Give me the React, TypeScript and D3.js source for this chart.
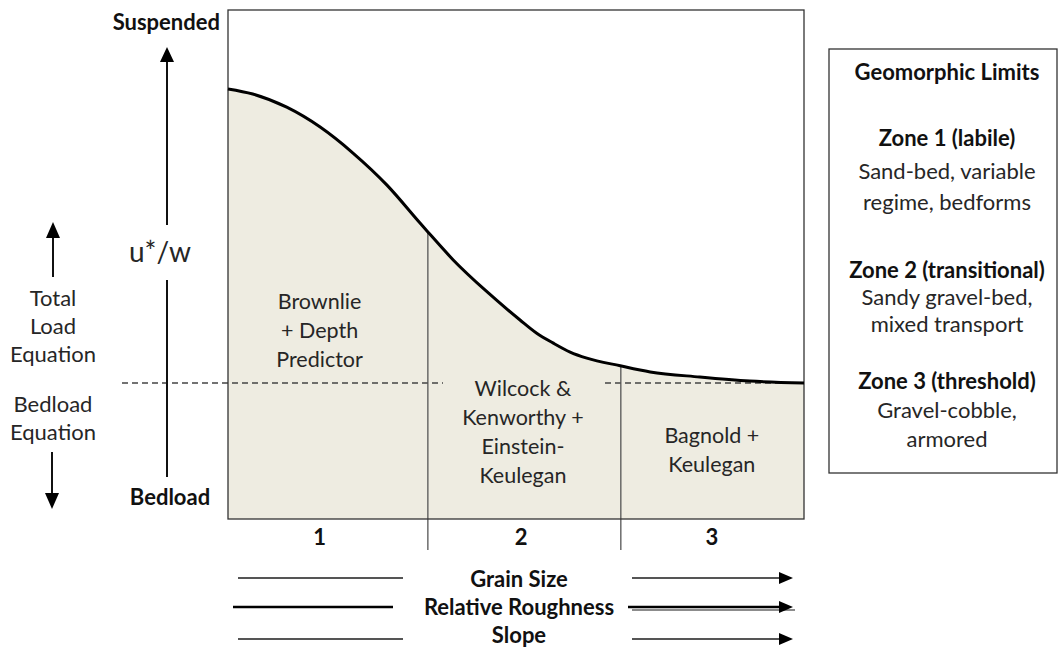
import React from "react";
import * as d3 from "d3";

// Curve of u*/w against relative grain size (plot units 0..100)
const curveX = [0, 4.3, 10.2, 16.0, 21.7, 27.6, 33.3, 34.7, 39.1, 45.0, 50.7, 53.6, 56.4, 59.4, 62.3, 68.1, 73.3, 81.9, 90.6, 100];
const curveY = [84.5, 83.5, 80.9, 77.0, 71.9, 65.6, 58.2, 56.4, 50.9, 44.6, 39.1, 36.5, 34.6, 32.8, 31.6, 30.1, 28.9, 27.9, 27.1, 26.7];
const zoneBounds = [34.7, 68.2];
const threshold = 26.7;
const zoneNumbers = ["1", "2", "3"];
const zoneNumberX = [15.9, 50.9, 84.0];
const zoneTexts = [
  ["Brownlie", "+ Depth", "Predictor"],
  ["Wilcock &", "Kenworthy +", "Einstein-", "Keulegan"],
  ["Bagnold +", "Keulegan"],
];
const zoneTextX = [15.9, 51.2, 84.0];
const zoneTextTopY = [41.2, 24.2, 14.9];
const legendTitle = "Geomorphic Limits";
const legendZones = [
  { head: "Zone 1 (labile)", body: ["Sand-bed, variable", "regime, bedforms"] },
  { head: "Zone 2 (transitional)", body: ["Sandy gravel-bed,", "mixed transport"] },
  { head: "Zone 3 (threshold)", body: ["Gravel-cobble,", "armored"] },
];
const bottomLabels = ["Grain Size", "Relative Roughness", "Slope"];
const leftLabelsTop = ["Total", "Load", "Equation"];
const leftLabelsBottom = ["Bedload", "Equation"];

const FONT = "Lato, 'Open Sans', sans-serif";
const FILL = "#EEECE1";
const TXT = "#262626";
const FS = 22;

export default function App() {
  const W = 1059, H = 648;
  const x = d3.scaleLinear().domain([0, 100]).range([228, 804]);
  const y = d3.scaleLinear().domain([0, 100]).range([519, 10]);
  const pts: [number, number][] = curveX.map((v, i) => [v, curveY[i]]);
  const line = d3.line<[number, number]>().x(d => x(d[0])).y(d => y(d[1])).curve(d3.curveMonotoneX);
  const area = d3.area<[number, number]>().x(d => x(d[0])).y0(y(0)).y1(d => y(d[1])).curve(d3.curveMonotoneX);
  const interp = (xv: number) => {
    const i = d3.bisectLeft(curveX, xv);
    if (i <= 0) return curveY[0];
    const t = (xv - curveX[i - 1]) / (curveX[i] - curveX[i - 1]);
    return curveY[i - 1] + t * (curveY[i] - curveY[i - 1]);
  };

  const arrowR = (x1: number, x2: number, yy: number, color: string, sw: number, key: string) => (
    <g key={key}>
      <line x1={x1} x2={x2 - 12} y1={yy} y2={yy} stroke={color} strokeWidth={sw} />
      <path d={`M${x2},${yy} L${x2 - 14},${yy - 6} L${x2 - 14},${yy + 6} Z`} fill="#000" />
    </g>
  );

  const rowY = [578, 607, 639];
  const rowBase = [587, 615, 643];
  const legendTops = [146, 278, 389];
  const legendBody = [[179, 210], [305, 332], [418, 447]];

  return (
    <svg width={W} height={H} style={{ position: "absolute", left: 0, top: 0, background: "#fff" }} fontFamily={FONT}>
      {/* plot area */}
      <path d={area(pts) || ""} fill={FILL} />
      <rect x={443} y={365} width={160} height={134} fill={FILL} />
      <line x1={122} x2={443} y1={y(threshold)} y2={y(threshold)} stroke="#444" strokeWidth={1.5} strokeDasharray="6,4" />
      <line x1={605} x2={x(100)} y1={y(threshold)} y2={y(threshold)} stroke="#444" strokeWidth={1.5} strokeDasharray="6,4" />
      {zoneBounds.map((b, i) => (
        <line key={i} x1={x(b)} x2={x(b)} y1={y(interp(b))} y2={550} stroke="#555" strokeWidth={1.3} />
      ))}
      <rect x={x(0)} y={y(100)} width={x(100) - x(0)} height={y(0) - y(100)} fill="none" stroke="#333" strokeWidth={1.3} />
      <path d={line(pts) || ""} fill="none" stroke="#000" strokeWidth={3} />

      {/* zone texts */}
      {zoneTexts.map((lines, zi) => (
        <text key={zi} textAnchor="middle" fontSize={FS - 0.5} fill={TXT}>
          {lines.map((l, li) => (
            <tspan key={li} x={x(zoneTextX[zi])} y={y(zoneTextTopY[zi]) + li * 29}>{l}</tspan>
          ))}
        </text>
      ))}
      {zoneNumbers.map((n, i) => (
        <text key={n} x={x(zoneNumberX[i])} y={545} textAnchor="middle" fontSize={FS} fontWeight="bold" fill="#111">{n}</text>
      ))}

      {/* vertical axis */}
      <text x={220} y={30} textAnchor="end" fontSize={FS} fontWeight="bold" fill="#111">Suspended</text>
      <text x={170} y={505} textAnchor="middle" fontSize={FS} fontWeight="bold" fill="#111">Bedload</text>
      <line x1={167} x2={167} y1={59} y2={225} stroke="#111" strokeWidth={2} />
      <line x1={167} x2={167} y1={280} y2={477} stroke="#111" strokeWidth={2} />
      <path d="M167,47 L160,62 L174,62 Z" fill="#000" />
      <text x={160} y={262} textAnchor="middle" fontSize={28} fill={TXT}>u*/w</text>

      {/* left labels */}
      <line x1={53} x2={53} y1={236} y2={277} stroke="#111" strokeWidth={2} />
      <path d="M53,222 L46,238 L60,238 Z" fill="#000" />
      {leftLabelsTop.map((l, i) => (
        <text key={l + i} x={53} y={306 + i * 28} textAnchor="middle" fontSize={FS} fill={TXT}>{l}</text>
      ))}
      {leftLabelsBottom.map((l, i) => (
        <text key={l + i} x={53} y={412 + i * 28} textAnchor="middle" fontSize={FS} fill={TXT}>{l}</text>
      ))}
      <line x1={52} x2={52} y1={452} y2={495} stroke="#111" strokeWidth={2} />
      <path d="M52,509 L45,493 L59,493 Z" fill="#000" />

      {/* bottom rows */}
      {bottomLabels.map((l, i) => (
        <text key={l} x={519} y={rowBase[i]} textAnchor="middle" fontSize={FS} fontWeight="bold" fill="#111">{l}</text>
      ))}
      <line x1={238} x2={403} y1={rowY[0]} y2={rowY[0]} stroke="#555" strokeWidth={2} />
      <line x1={233} x2={393} y1={rowY[1]} y2={rowY[1]} stroke="#000" strokeWidth={2.5} />
      <line x1={238} x2={403} y1={rowY[2]} y2={rowY[2]} stroke="#555" strokeWidth={2} />
      {arrowR(632, 793, rowY[0], "#555", 2, "a0")}
      <line x1={632} x2={795} y1={rowY[1] + 3} y2={rowY[1] + 3} stroke="#666" strokeWidth={1.5} />
      {arrowR(628, 793, rowY[1], "#000", 2.5, "a1")}
      {arrowR(632, 793, rowY[2], "#555", 2, "a2")}

      {/* legend box */}
      <rect x={829} y={49} width={228} height={424} fill="#fff" stroke="#333" strokeWidth={1.3} />
      <text x={947} y={80} textAnchor="middle" fontSize={FS} fontWeight="bold" fill="#111">{legendTitle}</text>
      {legendZones.map((z, i) => (
        <g key={z.head}>
          <text x={947} y={legendTops[i]} textAnchor="middle" fontSize={FS} fontWeight="bold" fill="#111">{z.head}</text>
          {z.body.map((b, j) => (
            <text key={b} x={947} y={legendBody[i][j]} textAnchor="middle" fontSize={FS} fill={TXT}>{b}</text>
          ))}
        </g>
      ))}
    </svg>
  );
}
